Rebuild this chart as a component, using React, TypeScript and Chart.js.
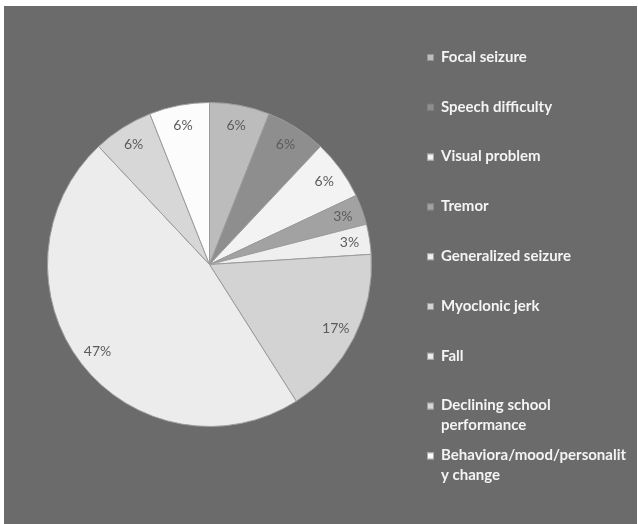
import React, { useEffect, useRef } from "react";
import { Chart, registerables } from "chart.js";

Chart.register(...registerables);

const categories: (string | string[])[] = [
  "Focal seizure",
  "Speech difficulty",
  "Visual problem",
  "Tremor",
  "Generalized seizure",
  "Myoclonic jerk",
  "Fall",
  ["Declining school", "performance"],
  ["Behaviora/mood/personalit", "y change"],
];

const percentages: number[] = [6, 6, 6, 3, 3, 17, 47, 6, 6];

const sliceColors: string[] = [
  "#bcbcbc",
  "#8e8e8e",
  "#f3f3f3",
  "#a2a2a2",
  "#efefef",
  "#d3d3d3",
  "#ececec",
  "#d7d7d7",
  "#fcfcfc",
];

const BG = "#6b6b6c";

function shade(hex: string, amt: number): string {
  const n = parseInt(hex.slice(1), 16);
  const clamp = (v: number) => Math.max(0, Math.min(255, Math.round(v)));
  const r = clamp(((n >> 16) & 255) + amt);
  const g = clamp(((n >> 8) & 255) + amt);
  const b = clamp((n & 255) + amt);
  return `rgb(${r},${g},${b})`;
}

const backgroundPlugin = {
  id: "bgPlugin",
  beforeDraw(chart: any) {
    const { ctx, width, height } = chart;
    ctx.save();
    ctx.fillStyle = "#ffffff";
    ctx.fillRect(0, 0, width, height);
    ctx.fillStyle = BG;
    ctx.fillRect(4, 6, width - 5, height - 6);
    ctx.restore();
  },
};

const labelPlugin = {
  id: "sliceLabels",
  afterDatasetsDraw(chart: any) {
    const { ctx } = chart;
    const meta = chart.getDatasetMeta(0);
    const data = chart.data.datasets[0].data as number[];
    ctx.save();
    ctx.font = "14px Lato, 'Open Sans', sans-serif";
    ctx.fillStyle = "#5c5c5c";
    ctx.textAlign = "center";
    ctx.textBaseline = "middle";
    meta.data.forEach((arc: any, i: number) => {
      const { x, y, startAngle, endAngle, outerRadius } = arc.getProps(
        ["x", "y", "startAngle", "endAngle", "outerRadius"],
        true
      );
      const mid = (startAngle + endAngle) / 2;
      const r = outerRadius * 0.875;
      ctx.fillText(data[i] + "%", x + Math.cos(mid) * r, y + Math.sin(mid) * r);
    });
    ctx.restore();
  },
};

const legendPlugin = {
  id: "customLegend",
  afterDraw(chart: any) {
    const { ctx } = chart;
    const labels = chart.data.labels as (string | string[])[];
    const colors = chart.data.datasets[0].backgroundColorList as string[];
    ctx.save();
    ctx.font = "bold 15px Lato, 'Open Sans', sans-serif";
    ctx.textBaseline = "middle";
    ctx.textAlign = "left";
    labels.forEach((lab, i) => {
      const y = 57 + i * 49.8;
      ctx.fillStyle = colors[i];
      ctx.fillRect(427, y - 3, 7, 7);
      ctx.strokeStyle = "rgba(120,120,120,0.6)";
      ctx.lineWidth = 1;
      ctx.strokeRect(427.5, y - 2.5, 6, 6);
      ctx.fillStyle = "#f4f4f4";
      const lines = Array.isArray(lab) ? lab : [lab];
      lines.forEach((t, j) => ctx.fillText(t, 441, y + j * 19.5));
    });
    ctx.restore();
  },
};

export default function App() {
  const ref = useRef<HTMLCanvasElement | null>(null);
  useEffect(() => {
    if (!ref.current) return;
    const chart = new Chart(ref.current, {
      type: "pie",
      data: {
        labels: categories as any,
        datasets: [
          {
            data: percentages,
            backgroundColorList: sliceColors,
            backgroundColor: (c: any) => {
              const base = sliceColors[c.dataIndex % sliceColors.length];
              const el = c.element;
              if (!el || el.x === undefined || !el.outerRadius) return base;
              const g = c.chart.ctx.createRadialGradient(el.x, el.y, 0, el.x, el.y, el.outerRadius);
              g.addColorStop(0, shade(base, 6));
              g.addColorStop(0.88, base);
              g.addColorStop(0.96, shade(base, 6));
              g.addColorStop(1, shade(base, -22));
              return g;
            },
            borderColor: "#9c9c9c",
            borderWidth: 1,
          } as any,
        ],
      },
      options: {
        responsive: false,
        animation: false,
        layout: { padding: { left: 47, top: 102, right: 266, bottom: 97 } },
        plugins: {
          legend: { display: false },
          tooltip: { enabled: false },
          title: { display: false },
        },
      },
      plugins: [backgroundPlugin, labelPlugin, legendPlugin],
    });
    return () => chart.destroy();
  }, []);
  return (
    <div style={{ position: "absolute", left: 0, top: 0, width: 638, height: 524 }}>
      <canvas ref={ref} width={638} height={524} style={{ display: "block" }} />
    </div>
  );
}
